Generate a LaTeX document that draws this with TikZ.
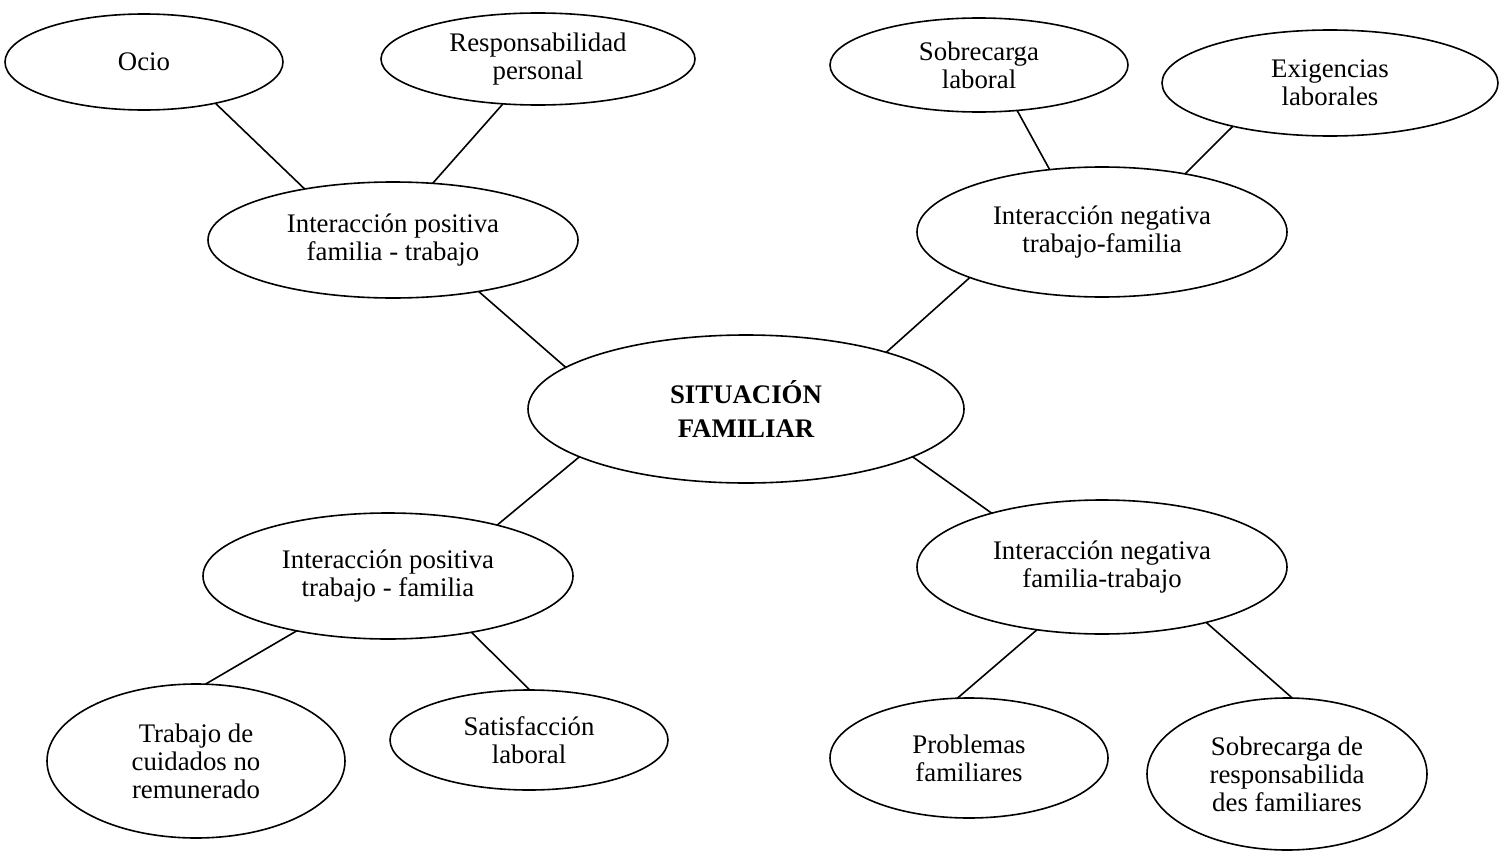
\documentclass[tikz,border=0pt]{standalone}
\usepackage{fontspec}
\setmainfont{Liberation Serif}
\usetikzlibrary{shapes,positioning}

\begin{document}
\begin{tikzpicture}[
        x=0.5pt, y=-0.5pt,
        every node/.style={draw, ellipse, align=center, inner sep=0pt, outer sep=0pt, font=\fontsize{13.4}{14}\selectfont},
        every path/.style={line width=0.8pt},
        main/.style={font=\fontsize{13.4}{17}\selectfont\bfseries}
    ]

    \useasboundingbox (0,0) rectangle (1500,851);

    % Nodes
    \node[main, minimum width=218pt, minimum height=74pt] (sit) at (746,409) {SITUACIÓN \\ FAMILIAR};

    \node[minimum width=185pt, minimum height=58pt] (ipft) at (393,240) {Interacción positiva \\ familia - trabajo};
    \node[minimum width=139pt, minimum height=48pt] (ocio) at (144,62) {Ocio};
    \node[minimum width=157pt, minimum height=46pt] (resp) at (538,59) {Responsabilidad \\ personal};

    \node[minimum width=185pt, minimum height=65pt] (ntf) at (1102,232) {Interacción negativa \\ trabajo-familia};
    \node[minimum width=149pt, minimum height=47pt] (sobrelab) at (979,65) {Sobrecarga \\ laboral};
    \node[minimum width=168pt, minimum height=53pt] (exig) at (1330,83) {Exigencias \\ laborales};

    \node[minimum width=185pt, minimum height=63pt] (iptf) at (388,576) {Interacción positiva \\ trabajo - familia};
    \node[minimum width=149pt, minimum height=77pt] (cuid) at (196,761) {Trabajo de \\ cuidados no \\ remunerado};
    \node[minimum width=139pt, minimum height=50pt] (satis) at (529,740) {Satisfacción \\ laboral};

    \node[minimum width=185pt, minimum height=67pt] (nft) at (1102,567) {Interacción negativa \\ familia-trabajo};
    \node[minimum width=139pt, minimum height=60pt] (prob) at (969,758) {Problemas \\ familiares};
    \node[minimum width=140pt, minimum height=76pt] (sobreresp) at (1287,774) {Sobrecarga de \\ responsabilida \\ des familiares};

    % Edges
    \draw (ocio.-30) -- (ipft.150);
    \draw (resp.-128) -- (ipft.55);
    \draw (sobrelab.-50) -- (ntf.130);
    \draw (exig.204) -- (ntf.35);
    \draw (ipft.-31) -- (sit.167);
    \draw (ntf.199) -- (sit.22);
    \draw (sit.196) -- (iptf.25);
    \draw (sit.-16) -- (nft.154);
    \draw (iptf.211) -- (cuid.83);
    \draw (iptf.-34) -- (satis.89);
    \draw (nft.224) -- (prob.101);
    \draw (nft.-28) -- (sobreresp.86);

\end{tikzpicture}
\end{document}
